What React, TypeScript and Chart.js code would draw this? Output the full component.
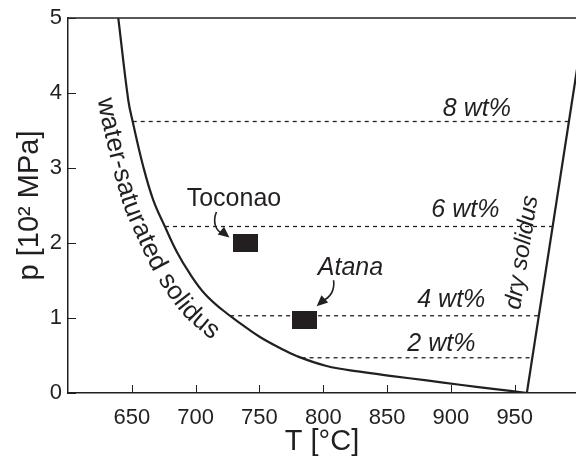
import React, { useEffect, useRef } from "react";
import { Chart, registerables } from "chart.js";

Chart.register(...registerables);

// ---- data ----
const wetSolidusT = [639.4, 647.2, 650.7, 659.0, 666.8, 676.0, 685.1, 695.6, 707.3, 720.6, 734.7, 750.4, 766.1, 779.1, 802.6, 828.7, 854, 881, 907, 933, 960];
const wetSolidusP = [5.0, 3.907, 3.617, 3.017, 2.573, 2.217, 1.887, 1.587, 1.32, 1.113, 0.933, 0.747, 0.6, 0.493, 0.36, 0.284, 0.226, 0.168, 0.11, 0.055, 0];

const drySolidusT = [959.5, 1005];
const drySolidusP = [0, 5];

const wtLabels = ["2 wt%", "4 wt%", "6 wt%", "8 wt%"];
const wtP = [0.47, 1.03, 2.22, 3.62];
const wtStartT = [783, 727, 676, 650.7];
const wtEndT = [963.9, 968.9, 979.7, 992.4];
const wtLabelT = [892.5, 900.3, 911.3, 920.3];
const wtLabelP = [0.564, 1.143, 2.343, 3.693];

const sampleNames = ["Toconao", "Atana"];
const sampleT = [739, 785.4];
const sampleP = [2.0, 0.97];
const sampleLabelT = [730, 821.3];
const sampleLabelP = [2.49, 1.573];

const xTicks = [650, 700, 750, 800, 850, 900, 950];
const yTicks = [0, 1, 2, 3, 4, 5];

const INK = "#231f20";
const FONT = '"Liberation Sans", Arial, Helvetica, sans-serif';

function catmull(pts: { x: number; y: number }[], steps: number) {
  const out: { x: number; y: number }[] = [];
  const n = pts.length;
  for (let i = 0; i < n - 1; i++) {
    const p0 = pts[Math.max(i - 1, 0)];
    const p1 = pts[i];
    const p2 = pts[i + 1];
    const p3 = pts[Math.min(i + 2, n - 1)];
    for (let k = 0; k < steps; k++) {
      const t = k / steps;
      const t2 = t * t;
      const t3 = t2 * t;
      const f = (a: number, b: number, c: number, d: number) =>
        0.5 * (2 * b + (-a + c) * t + (2 * a - 5 * b + 4 * c - d) * t2 + (-a + 3 * b - 3 * c + d) * t3);
      out.push({ x: f(p0.x, p1.x, p2.x, p3.x), y: f(p0.y, p1.y, p2.y, p3.y) });
    }
  }
  out.push(pts[n - 1]);
  return out;
}

function arrowHead(ctx: CanvasRenderingContext2D, tx: number, ty: number, dx: number, dy: number) {
  const L = Math.hypot(dx, dy);
  const ux = dx / L, uy = dy / L;
  const len = 11, half = 5;
  const bx = tx - ux * len, by = ty - uy * len;
  ctx.beginPath();
  ctx.moveTo(tx, ty);
  ctx.lineTo(bx - uy * half, by + ux * half);
  ctx.lineTo(bx + uy * half, by - ux * half);
  ctx.closePath();
  ctx.fill();
}

const annotPlugin = {
  id: "annot",
  afterDraw(chart: any) {
    const ctx: CanvasRenderingContext2D = chart.ctx;
    const xs = chart.scales.x;
    const ys = chart.scales.y;
    const { left, right, top, bottom } = chart.chartArea;
    ctx.save();
    ctx.strokeStyle = INK;
    ctx.fillStyle = INK;

    // top frame line
    ctx.lineWidth = 1.5;
    ctx.beginPath();
    ctx.moveTo(left, top);
    ctx.lineTo(right + 2, top);
    ctx.stroke();

    // inward tick marks
    ctx.lineWidth = 1;
    ctx.beginPath();
    xTicks.forEach((v) => {
      const px = Math.round(xs.getPixelForValue(v)) + 0.5;
      ctx.moveTo(px, bottom);
      ctx.lineTo(px, bottom - 8);
    });
    yTicks.forEach((v) => {
      const py = Math.round(ys.getPixelForValue(v)) + 0.5;
      ctx.moveTo(left, py);
      ctx.lineTo(left + 8, py);
    });
    ctx.stroke();

    // wt% labels
    ctx.textAlign = "center";
    ctx.textBaseline = "alphabetic";
    ctx.font = `italic 25px ${FONT}`;
    wtLabels.forEach((lab, i) => {
      ctx.fillText(lab, xs.getPixelForValue(wtLabelT[i]), ys.getPixelForValue(wtLabelP[i]));
    });

    // sample labels
    ctx.font = `25px ${FONT}`;
    ctx.fillText(sampleNames[0], xs.getPixelForValue(sampleLabelT[0]), ys.getPixelForValue(sampleLabelP[0]));
    ctx.font = `italic 25px ${FONT}`;
    ctx.fillText(sampleNames[1], xs.getPixelForValue(sampleLabelT[1]), ys.getPixelForValue(sampleLabelP[1]));

    // arrows
    ctx.lineWidth = 1.6;
    {
      const mx = xs.getPixelForValue(sampleT[0]);
      const my = ys.getPixelForValue(sampleP[0]);
      ctx.beginPath();
      ctx.moveTo(mx - 29, my - 31);
      ctx.bezierCurveTo(mx - 33, my - 21, mx - 30, my - 12, mx - 22, my - 9);
      ctx.stroke();
      arrowHead(ctx, mx - 16, my - 5.5, 0.77, 0.63);
    }
    {
      const mx = xs.getPixelForValue(sampleT[1]);
      const my = ys.getPixelForValue(sampleP[1]);
      ctx.beginPath();
      ctx.moveTo(mx + 29, my - 40);
      ctx.bezierCurveTo(mx + 30, my - 30, mx + 27, my - 24, mx + 19, my - 20);
      ctx.stroke();
      arrowHead(ctx, mx + 12, my - 14, -0.74, 0.67);
    }

    // dry solidus label
    ctx.save();
    ctx.font = `italic 24px ${FONT}`;
    ctx.translate(xs.getPixelForValue(961), ys.getPixelForValue(1.86));
    ctx.rotate((-81.2 * Math.PI) / 180);
    ctx.textAlign = "center";
    ctx.fillText("dry solidus", 0, 0);
    ctx.restore();

    // water-saturated solidus label along the curve
    const pts = wetSolidusT.map((t, i) => ({ x: xs.getPixelForValue(t), y: ys.getPixelForValue(wetSolidusP[i]) }));
    const dense = catmull(pts, 12);
    const D = 30;
    const off = dense.map((p, i) => {
      const a = dense[Math.max(i - 2, 0)];
      const b = dense[Math.min(i + 2, dense.length - 1)];
      const dx = b.x - a.x, dy = b.y - a.y;
      const L = Math.hypot(dx, dy) || 1;
      const tx = dx / L, ty = dy / L;
      return { x: p.x - ty * D, y: p.y + tx * D };
    });
    const cum = [0];
    for (let i = 1; i < off.length; i++) cum.push(cum[i - 1] + Math.hypot(off[i].x - off[i - 1].x, off[i].y - off[i - 1].y));
    const at = (s: number) => {
      let i = 1;
      while (i < cum.length - 1 && cum[i] < s) i++;
      const s0 = cum[i - 1], s1 = cum[i];
      const f = s1 > s0 ? (s - s0) / (s1 - s0) : 0;
      return { x: off[i - 1].x + (off[i].x - off[i - 1].x) * f, y: off[i - 1].y + (off[i].y - off[i - 1].y) * f };
    };
    const yStart = ys.getPixelForValue(4.03);
    let startIdx = dense.findIndex((p) => p.y >= yStart);
    if (startIdx < 0) startIdx = 0;
    let s = cum[startIdx];
    ctx.font = `26px ${FONT}`;
    ctx.textAlign = "center";
    const text = "water-saturated solidus";
    const extra = 0.2;
    for (const ch of text) {
      const w = ctx.measureText(ch).width + extra;
      const mid = s + w / 2;
      const p = at(mid);
      const pa = at(mid - 6);
      const pb = at(mid + 6);
      const ang = Math.atan2(pb.y - pa.y, pb.x - pa.x);
      ctx.save();
      ctx.translate(p.x, p.y);
      ctx.rotate(ang);
      ctx.fillText(ch, 0, 0);
      ctx.restore();
      s += w;
    }

    ctx.restore();
  },
};

export default function App() {
  const ref = useRef<HTMLCanvasElement | null>(null);
  useEffect(() => {
    if (!ref.current) return;
    const marker = document.createElement("canvas");
    marker.width = 25;
    marker.height = 18;
    const mctx = marker.getContext("2d")!;
    mctx.fillStyle = INK;
    mctx.fillRect(0, 0, 25, 18);

    const datasets: any[] = [
      {
        label: "water-saturated solidus",
        data: wetSolidusT.map((t, i) => ({ x: t, y: wetSolidusP[i] })),
        borderColor: INK,
        borderWidth: 2.2,
        pointRadius: 0,
        tension: 0.4,
        fill: false,
      },
      {
        label: "dry solidus",
        data: drySolidusT.map((t, i) => ({ x: t, y: drySolidusP[i] })),
        borderColor: INK,
        borderWidth: 2.2,
        pointRadius: 0,
        fill: false,
      },
      ...wtLabels.map((lab, i) => ({
        label: lab,
        data: [
          { x: wtStartT[i], y: wtP[i] },
          { x: wtEndT[i], y: wtP[i] },
        ],
        borderColor: INK,
        borderWidth: 1.3,
        borderDash: [4, 4],
        pointRadius: 0,
        fill: false,
      })),
      {
        label: "samples",
        data: sampleNames.map((_, i) => ({ x: sampleT[i], y: sampleP[i] })),
        showLine: false,
        pointStyle: marker,
        pointRadius: 13,
        backgroundColor: INK,
        borderColor: INK,
      },
    ];

    const chart = new Chart(ref.current, {
      type: "line",
      data: { datasets },
      options: {
        responsive: false,
        animation: false,
        devicePixelRatio: 1,
        layout: { autoPadding: false, padding: { top: 18, right: 0, bottom: 0, left: 0 } },
        plugins: { legend: { display: false }, tooltip: { enabled: false } },
        scales: {
          x: {
            type: "linear",
            min: 600,
            max: 998,
            afterBuildTicks: (sc: any) => {
              sc.ticks = xTicks.map((v) => ({ value: v }));
            },
            afterFit: (sc: any) => {
              sc.height = 66;
              sc.paddingLeft = 0;
              sc.paddingRight = 0;
            },
            ticks: { color: INK, font: { size: 22, family: FONT, lineHeight: 1 }, padding: 14, maxRotation: 0, autoSkip: false },
            grid: { display: true, drawOnChartArea: false, drawTicks: false },
            border: { display: true, color: INK, width: 1.5 },
            title: {
              display: true,
              text: "T [°C]",
              color: INK,
              font: { size: 29, family: FONT, lineHeight: 1 },
              padding: { top: 0, bottom: 2.5 },
            },
          },
          y: {
            type: "linear",
            min: 0,
            max: 5,
            afterBuildTicks: (sc: any) => {
              sc.ticks = yTicks.map((v) => ({ value: v }));
            },
            afterFit: (sc: any) => {
              sc.width = 68;
              sc.paddingTop = 0;
              sc.paddingBottom = 0;
            },
            ticks: { color: INK, font: { size: 22, family: FONT, lineHeight: 1 }, padding: 6 },
            grid: { display: true, drawOnChartArea: false, drawTicks: false },
            border: { display: true, color: INK, width: 1.5 },
            title: {
              display: true,
              text: "p [10² MPa]",
              color: INK,
              font: { size: 29, family: FONT, lineHeight: 1 },
              padding: { top: 15, bottom: 6 },
            },
          },
        },
      } as any,
      plugins: [annotPlugin],
    });
    return () => chart.destroy();
  }, []);

  return (
    <div style={{ position: "fixed", left: 0, top: 0, width: 576, height: 459, background: "#fff" }}>
      <canvas ref={ref} width={576} height={459} />
    </div>
  );
}
